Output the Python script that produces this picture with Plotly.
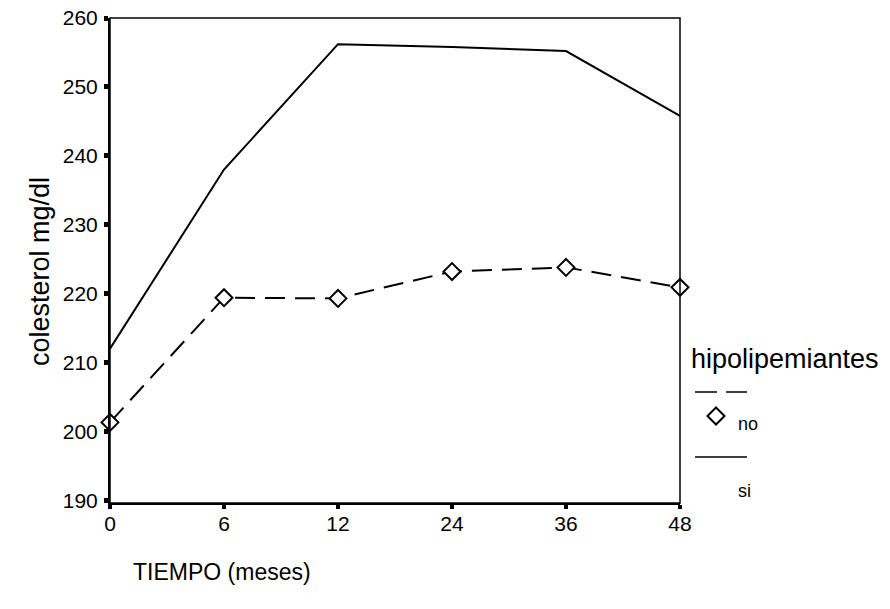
import plotly.graph_objects as go

# ---- data ----
tiempo = ["0", "6", "12", "24", "36", "48"]
col_no = [201.3, 219.4, 219.3, 223.2, 223.8, 220.9]
col_si = [212.0, 238.0, 256.2, 255.8, 255.2, 245.8]
y_ticks = [190, 200, 210, 220, 230, 240, 250, 260]
series_names = ["no", "si"]
legend_title = "hipolipemiantes"
x_title = "TIEMPO (meses)"
y_title = "colesterol mg/dl"

FONT = "Liberation Sans, Arial, Helvetica, sans-serif"

# plot-area pixel geometry (for converting pixel placement to paper coords)
L, R, T, B = 110, 680, 18, 503
W, H = R - L, B - T


def px(x):
    return (x - L) / W


def py(y):
    return (B - y) / H


fig = go.Figure()

fig.add_trace(go.Scatter(
    x=tiempo, y=col_si, mode="lines", name=series_names[1],
    line=dict(color="black", width=2), showlegend=False,
))
fig.add_trace(go.Scatter(
    x=tiempo, y=col_no, mode="lines+markers", name=series_names[0],
    line=dict(color="black", width=2, dash="20px,10px"),
    marker=dict(symbol="diamond", size=13, color="white",
                line=dict(color="black", width=2)),
    showlegend=False, cliponaxis=False,
))

shapes = [
    # frame (top / right thinner)
    dict(type="rect", xref="paper", yref="paper", x0=0, x1=1, y0=0, y1=1,
         line=dict(color="black", width=1.5), layer="above"),
    # legend samples
    dict(type="line", xref="paper", yref="paper", x0=px(695), x1=px(747),
         y0=py(392), y1=py(392), line=dict(color="black", width=1.5, dash="22px,9px")),
    dict(type="path", xref="paper", yref="paper", xsizemode="pixel", ysizemode="pixel",
         xanchor=px(716), yanchor=py(416),
         path="M0,8.5 L8.5,0 L0,-8.5 L-8.5,0 Z",
         line=dict(color="black", width=2), fillcolor="white"),
    dict(type="line", xref="paper", yref="paper", x0=px(695), x1=px(747),
         y0=py(457), y1=py(457), line=dict(color="black", width=1.5)),
]

annotations = [
    dict(text=legend_title, xref="paper", yref="paper", x=px(689), y=py(359),
         xanchor="left", yanchor="middle", showarrow=False,
         font=dict(family=FONT, size=27, color="black")),
    dict(text=series_names[0], xref="paper", yref="paper", x=px(736), y=py(424),
         xanchor="left", yanchor="middle", showarrow=False,
         font=dict(family=FONT, size=18, color="black")),
    dict(text=series_names[1], xref="paper", yref="paper", x=px(736), y=py(491),
         xanchor="left", yanchor="middle", showarrow=False,
         font=dict(family=FONT, size=18, color="black")),
    dict(text=x_title, xref="paper", yref="paper", x=px(131), y=py(572),
         xanchor="left", yanchor="middle", showarrow=False,
         font=dict(family=FONT, size=23, color="black")),
    dict(text=y_title, xref="paper", yref="paper", x=px(40), y=py(272),
         xanchor="center", yanchor="middle", showarrow=False, textangle=-90,
         font=dict(family=FONT, size=27, color="black")),
]

fig.update_layout(
    width=890, height=609,
    margin=dict(l=L, r=890 - R, t=T, b=609 - B, autoexpand=False),
    paper_bgcolor="white", plot_bgcolor="white",
    font=dict(family=FONT, color="black"),
    shapes=shapes, annotations=annotations,
    xaxis=dict(
        type="category", range=[0, len(tiempo) - 1], automargin=False,
        showgrid=False, zeroline=False,
        showline=True, linecolor="black", linewidth=2,
        ticks="outside", ticklen=4, tickwidth=4, tickcolor="black",
        tickfont=dict(family=FONT, size=21, color="black"),
        ticklabelstandoff=-3,
    ),
    yaxis=dict(
        range=[189.6, 260], tickvals=y_ticks, automargin=False,
        showgrid=False, zeroline=False,
        showline=True, linecolor="black", linewidth=2,
        ticks="outside", ticklen=4, tickwidth=5, tickcolor="black",
        tickfont=dict(family=FONT, size=21, color="black"),
        ticklabelstandoff=2,
    ),
)

fig.write_html("out.html")
